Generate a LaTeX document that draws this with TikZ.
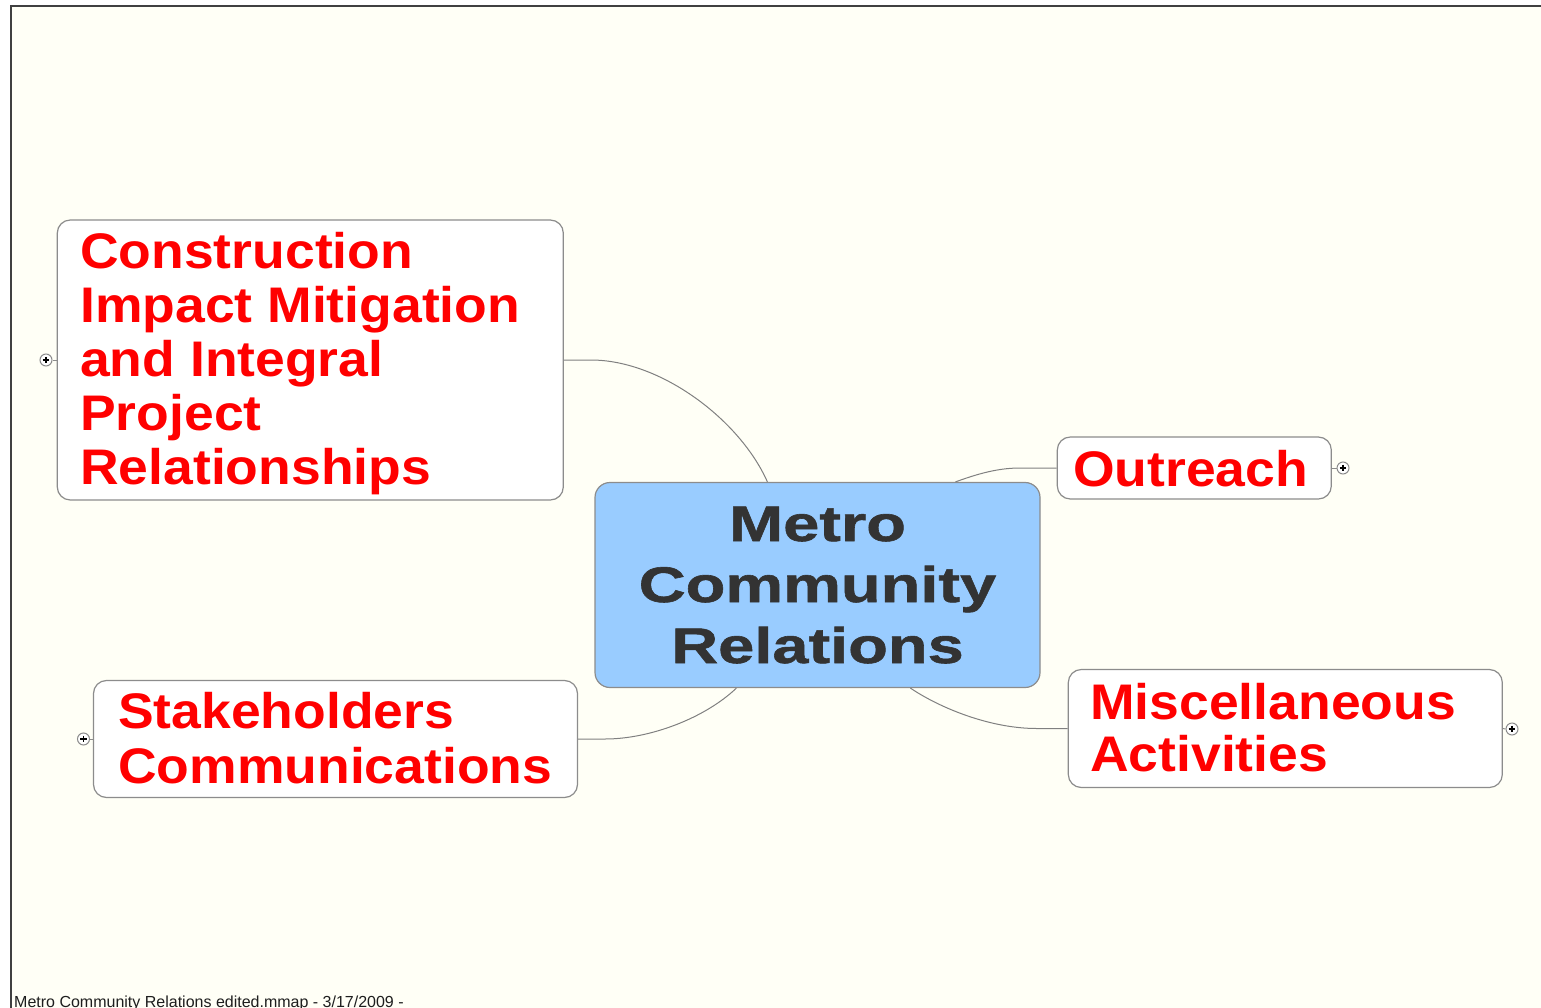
\documentclass[tikz,border=0pt]{standalone}
\usepackage{fontspec}
\newfontfamily\redfont[FakeStretch=1.07]{Liberation Sans Bold}
\newfontfamily\ctrfont[FakeStretch=1.3,FakeBold=1.2]{Liberation Sans Bold}
\newfontfamily\footfont{Liberation Sans}
\usetikzlibrary{calc}
\definecolor{cream}{RGB}{255,255,246}
\definecolor{edgegray}{RGB}{140,140,140}
\definecolor{conngray}{RGB}{128,128,128}
\definecolor{ctrblue}{RGB}{153,204,255}
\definecolor{ctrtext}{RGB}{51,51,51}
\definecolor{framegray}{RGB}{64,64,64}
\begin{document}
\begin{tikzpicture}[x=1pt,y=-1pt,
  topicbox/.style={draw=edgegray, line width=1.2pt, fill=white, rounded corners=13pt, inner sep=0pt},
  centerbox/.style={draw=edgegray, line width=1.2pt, fill=ctrblue, rounded corners=15pt, inner sep=0pt},
  redtext/.style={inner sep=0pt, anchor=base west, align=left, text=red, font=\redfont\fontsize{50}{54}\selectfont},
  ctrlabel/.style={inner sep=0pt, anchor=base, align=center, text=ctrtext, font=\ctrfont\fontsize{50}{61}\selectfont},
  plusicon/.style={circle, draw=edgegray, line width=1pt, fill=white, minimum size=12pt, inner sep=0pt,
    path picture={\draw[black, line width=1.3pt] (path picture bounding box.center) ++(-3.4,0) -- ++(6.8,0)
      (path picture bounding box.center) ++(0,-3.4) -- ++(0,6.8);}},
  conn/.style={draw=conngray, line width=1pt},
  stub/.style={draw=edgegray, line width=1pt},
]
\useasboundingbox (0,0) rectangle (1541,1008);
\fill[white] (0,0) rectangle (1541,1008);
\fill[cream] (11,6) rectangle (1541,1008);
\draw[framegray, line width=2pt] (11,1010) -- (11,6) -- (1545,6);

% boxes
\node[topicbox, minimum width=506pt, minimum height=280pt] (con) at (310.3,360) {};
\node[topicbox, minimum width=274pt, minimum height=62pt] (out) at (1194.3,468) {};
\node[centerbox, minimum width=445pt, minimum height=205pt] (ctr) at (817.5,585) {};
\node[topicbox, minimum width=484pt, minimum height=117pt] (stk) at (335.5,739) {};
\node[topicbox, minimum width=434pt, minimum height=118pt] (misc) at (1285.3,728.5) {};

% texts (anchor = baseline of the last line)
\node[redtext] (contxt) at (80,484) {Construction\\Impact Mitigation\\and Integral\\Project\\Relationships};
\node[redtext] (outtxt) at (1073,486) {Outreach};
\node[ctrlabel] (ctrtxt) at (817.5,663) {Metro\\Community\\Relations};
\node[redtext, font=\redfont\fontsize{50}{55}\selectfont] (stktxt) at (118,783) {Stakeholders\\Communications};
\node[redtext, font=\redfont\fontsize{50}{52}\selectfont] (misctxt) at (1090,771) {Miscellaneous\\Activities};

% plus icons
\node[plusicon] (conplus) at (46,360) {};
\node[plusicon] (outplus) at (1343,468) {};
\node[plusicon] (stkplus) at (83.5,739) {};
\node[plusicon] (miscplus) at (1512,729) {};
\draw[stub] (con.west) -- (conplus.east);
\draw[stub] (out.east) -- (outplus.west);
\draw[stub] (stk.west) -- (stkplus.east);
\draw[stub] (misc.east) -- (miscplus.west);

% connectors
\coordinate (c1) at ($(con.east)+(27,0)$);
\coordinate (c1e) at ($(ctr.north west)+(173,0)$);
\draw[conn] (con.east) -- (c1) .. controls +(70,0) and (740,420) .. (c1e);

\coordinate (c2) at ($(out.west)+(-37,0)$);
\coordinate (c2e) at ($(ctr.north west)+(361,0)$);
\draw[conn] (out.west) -- (c2) .. controls +(-25,0) and (972,476) .. (c2e);

\coordinate (c3) at ($(stk.east)+(27,0)$);
\coordinate (c3e) at ($(ctr.south west)+(142,0)$);
\draw[conn] (stk.east) -- (c3) .. controls +(45,0) and (705,718) .. (c3e);

\coordinate (c4) at ($(misc.west)+(-31,0)$);
\coordinate (c4s) at ($(ctr.south west)+(316,0)$);
\draw[conn] (c4s) .. controls (940,708) and (990,728.5) .. (c4) -- (misc.west);

% footer
\node[inner sep=0pt, anchor=base west, text={rgb,255:red,30;green,30;blue,30}, font=\footfont\fontsize{16}{18}\selectfont] (foot) at (14,1007.5) {Metro Community Relations edited.mmap - 3/17/2009 -};
\end{tikzpicture}
\end{document}
